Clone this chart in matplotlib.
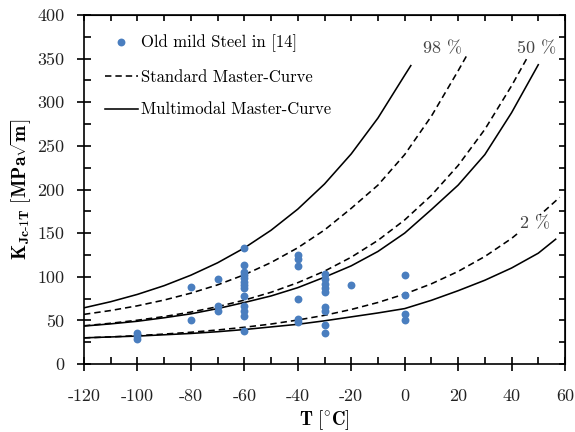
import matplotlib
matplotlib.use('Agg')
import matplotlib.pyplot as plt
from matplotlib.ticker import MultipleLocator, FixedLocator, NullFormatter

plt.rcParams['font.family'] = 'serif'
plt.rcParams['font.serif'] = ['cmr10', 'DejaVu Serif']
plt.rcParams['mathtext.fontset'] = 'cm'
plt.rcParams['axes.formatter.use_mathtext'] = True
plt.rcParams['axes.unicode_minus'] = False

# ---------------- data ----------------
pts_T = [-100, -100, -100,
         -80, -80,
         -70, -70, -70,
         -60, -60, -60, -60, -60, -60, -60, -60, -60, -60, -60, -60, -60,
         -40, -40, -40, -40, -40, -40,
         -30, -30, -30, -30, -30, -30, -30, -30, -30,
         -20,
         0, 0, 0, 0]
pts_K = [35, 32, 29,
         88, 51,
         97, 66, 61,
         133, 114, 106, 102, 98, 94, 90, 87, 78, 66, 61, 55, 38,
         125, 120, 112, 74, 52, 48,
         103, 97, 92, 87, 82, 65, 61, 45, 35,
         90,
         102, 79, 57, 51]

# Standard Master-Curve (dashed)
std98_T = [-120, -110, -100, -90, -80, -70, -60, -50, -40, -30, -20, -10, 0, 10, 20, 23.5]
std98_K = [56.9, 61.3, 66.7, 73.3, 81.2, 90.7, 102.3, 116.3, 133.2, 153.6, 178.4, 205, 240, 284, 336, 355]
std50_T = [-120, -110, -100, -90, -80, -70, -60, -50, -40, -30, -20, -10, 0, 10, 20, 30, 40, 47.5]
std50_K = [43.8, 46.7, 50.2, 54.4, 59.5, 65.7, 73.2, 82.2, 93.2, 106.4, 122.4, 141.7, 165.1, 193.3, 227.5, 268.9, 318.8, 360]
std2_T = [-120, -110, -100, -90, -80, -70, -60, -50, -40, -30, -20, -10, 0, 10, 20, 30, 40, 50, 58]
std2_K = [29.9, 31.1, 32.5, 34.3, 36.4, 39.0, 42.1, 45.8, 50.4, 55.8, 62.5, 70.5, 80.2, 91.9, 106.1, 123.2, 143.9, 169.0, 191]

# Multimodal Master-Curve (solid)
mm98_T = [-120, -110, -100, -90, -80, -70, -60, -50, -40, -30, -20, -10, 0, 2.3]
mm98_K = [64.4, 71.4, 79.8, 89.8, 101.8, 116.0, 133.0, 153.3, 177.5, 206.3, 240.8, 281.9, 330.9, 342]
mm50_T = [-120, -110, -100, -90, -80, -70, -60, -50, -40, -30, -20, -10, 0, 10, 20, 30, 40, 50]
mm50_K = [43.5, 46, 49, 53, 57.5, 63.5, 70.5, 78, 87.5, 99.5, 112.5, 129, 150, 177, 205, 240, 288, 343]
mm2_T = [-120, -110, -100, -90, -80, -70, -60, -50, -40, -30, -20, -10, 0, 10, 20, 30, 40, 50, 56.5]
mm2_K = [30, 31, 32, 33.5, 35, 37, 39.5, 42.5, 45.5, 49.5, 54, 58.5, 63.5, 73, 84, 96, 110, 127, 143]

x_ticks = [-120, -100, -80, -60, -40, -20, 0, 20, 40, 60]
x_ticklabels = ['-120', '-100', '-80', '-60', '-40', '-20', '0', '20', '40', '60']
y_ticks = [0, 50, 100, 150, 200, 250, 300, 350, 400]
y_ticklabels = ['0', '50', '100', '150', '200', '250', '300', '350', '400']

legend_labels = ['Old mild Steel in [14]', 'Standard Master-Curve', 'Multimodal Master-Curve']
pct_labels = ['98 %', '50 %', '2 %']

# ---------------- figure ----------------
fig = plt.figure(figsize=(5.75, 4.32), dpi=100)
ax = fig.add_axes([84/575, 1-364/432, (565-84)/575, (364-15)/432])

blue = '#4A7EBF'
dash = (0, (4.0, 2.5))
lw = 1.15

ax.scatter(pts_T, pts_K, s=32, color=blue, zorder=3, label=legend_labels[0], linewidths=0)

ax.plot(std98_T, std98_K, color='black', lw=lw, linestyle=dash, label=legend_labels[1])
ax.plot(std50_T, std50_K, color='black', lw=lw, linestyle=dash)
ax.plot(std2_T, std2_K, color='black', lw=lw, linestyle=dash)

ax.plot(mm98_T, mm98_K, color='black', lw=lw, label=legend_labels[2])
ax.plot(mm50_T, mm50_K, color='black', lw=lw)
ax.plot(mm2_T, mm2_K, color='black', lw=lw)

ax.set_xlim(-120, 60)
ax.set_ylim(0, 400)

ax.xaxis.set_major_locator(FixedLocator(x_ticks))
ax.set_xticklabels(x_ticklabels)
ax.yaxis.set_major_locator(FixedLocator(y_ticks))
ax.set_yticklabels(y_ticklabels)
ax.xaxis.set_minor_locator(MultipleLocator(10))
ax.yaxis.set_minor_locator(MultipleLocator(25))

for s in ax.spines.values():
    s.set_linewidth(1.2)

ax.tick_params(which='major', direction='inout', length=10, width=1.2,
               labelsize=13, top=False, right=False, labelcolor='#222222')
ax.tick_params(axis='x', which='major', pad=13)
ax.tick_params(axis='y', which='major', pad=9)
ax.tick_params(which='minor', direction='in', length=5, width=1.2, top=False, right=False)

secx = ax.secondary_xaxis('top')
secx.xaxis.set_major_locator(MultipleLocator(10))
secx.xaxis.set_major_formatter(NullFormatter())
secx.tick_params(direction='in', length=4, width=1.2)
secy = ax.secondary_yaxis('right')
secy.yaxis.set_major_locator(MultipleLocator(25))
secy.yaxis.set_major_formatter(NullFormatter())
secy.tick_params(direction='in', length=4, width=1.2)

ax.set_xlabel(r'$\mathbf{T}\ [{}^{\circ}\mathbf{C}]$', fontsize=13.5, labelpad=3)
ax.set_ylabel(r'$\mathbf{K}_{\mathbf{Jc\text{-}1T}}\ [\mathbf{MPa}\sqrt{\mathbf{m}}]$', fontsize=14, labelpad=3)

box = dict(facecolor='white', edgecolor='none', pad=0.5)
ax.text(14, 361, pct_labels[0], fontsize=13, color='#444444', ha='center', va='center')
ax.text(49.5, 361, pct_labels[1], fontsize=13, color='#444444', ha='center', va='center',
        bbox=box, zorder=4)
ax.text(48.8, 161, pct_labels[2], fontsize=13, color='#444444', ha='center', va='center',
        bbox=box, zorder=4)

leg = ax.legend(loc='upper left', frameon=False, fontsize=12, handlelength=2.0,
                handletextpad=0.2, labelspacing=1.05, borderaxespad=0.3,
                bbox_to_anchor=(0.019, 0.979))

fig.savefig('out.png', dpi=100)
